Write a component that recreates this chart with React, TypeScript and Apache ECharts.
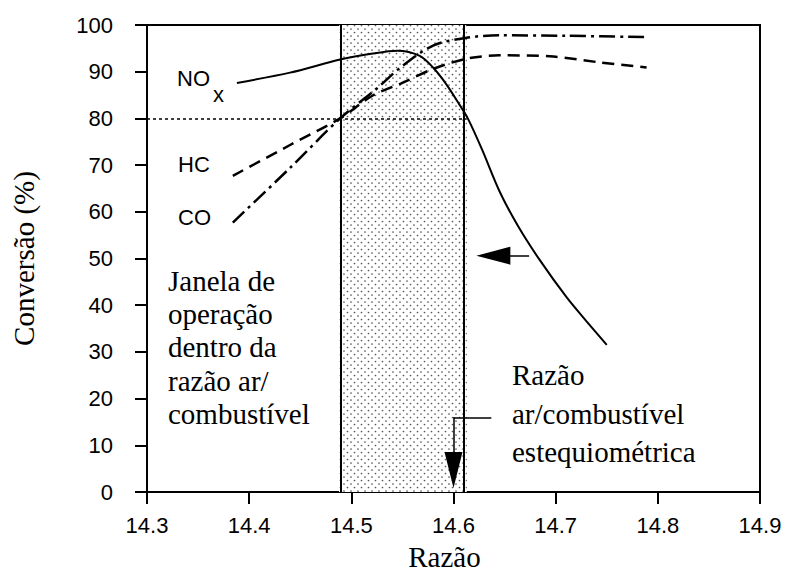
import React, { useEffect, useRef } from "react";
import * as echarts from "echarts";

// Razão ar/combustível (x) and conversion (%)
const noxX = [14.388, 14.44, 14.489, 14.521, 14.545, 14.567, 14.58, 14.593, 14.606, 14.614, 14.628, 14.645, 14.663, 14.684, 14.711, 14.73, 14.75];
const noxY = [87.6, 89.8, 92.6, 93.9, 94.5, 93.4, 90.9, 87.3, 82.9, 80.0, 73.3, 64.4, 57.0, 49.8, 41.6, 36.6, 31.5];

const hcX = [14.384, 14.44, 14.489, 14.521, 14.55, 14.58, 14.613, 14.645, 14.694, 14.743, 14.789];
const hcY = [67.7, 74.3, 80.0, 84.9, 87.6, 90.6, 92.8, 93.5, 93.3, 92.0, 90.9];

const coX = [14.384, 14.44, 14.489, 14.525, 14.5475, 14.58, 14.614, 14.645, 14.71, 14.789];
const coY = [57.7, 69.4, 80.0, 86.4, 90.8, 95.6, 97.3, 97.8, 97.7, 97.4];

const windowLo = 14.488;
const windowHi = 14.613;
const threshold = 80;
const stoich = 14.6;
const arrowLevel = 50.6;
const arrowTail = 14.674;
const arrowHead = 14.639;
const stoichLabelLevel = 16;
const stoichLabelX = 14.637;
const stoichHead = 4.7;

const xMin = 14.3;
const xMax = 14.9;
const xStep = 0.1;
const yMin = 0;
const yMax = 100;
const yStep = 10;

const pair = (xs: number[], ys: number[]) => xs.map((x, i) => [x, ys[i]]);

export default function App() {
  const ref = useRef<HTMLDivElement>(null);
  useEffect(() => {
    if (!ref.current) return;
    document.body.style.margin = "0";
    const chart = echarts.init(ref.current, undefined, { renderer: "svg" });

    const c = document.createElement("canvas");
    c.width = 7;
    c.height = 7;
    const ctx = c.getContext("2d")!;
    ctx.fillStyle = "#ffffff";
    ctx.fillRect(0, 0, 7, 7);
    ctx.fillStyle = "#555555";
    ctx.beginPath();
    ctx.arc(1, 1, 0.85, 0, Math.PI * 2);
    ctx.fill();
    ctx.beginPath();
    ctx.arc(4.5, 4.5, 0.85, 0, Math.PI * 2);
    ctx.fill();
    const pattern = { image: c.toDataURL(), repeat: "repeat", imageWidth: 7, imageHeight: 7 };

    const black = "#000";
    const sans = "Liberation Sans, Arial, sans-serif";
    const serif = "Liberation Serif, Times New Roman, serif";

    chart.setOption({
      animation: false,
      backgroundColor: "#fff",
      grid: { left: 147, right: 25, top: 25, bottom: 87, show: true, borderColor: black, borderWidth: 2 },
      xAxis: {
        type: "value",
        min: xMin,
        max: xMax,
        interval: xStep,
        name: "Razão",
        nameLocation: "middle",
        nameGap: 50,
        nameTextStyle: { fontFamily: serif, fontSize: 29, color: black, padding: [0, 18, 0, 0] },
        axisLine: { lineStyle: { color: black, width: 2 } },
        axisTick: { length: 12, lineStyle: { color: black, width: 2 } },
        axisLabel: { margin: 22, fontFamily: sans, fontSize: 22, color: black, formatter: (v: number) => v.toFixed(1) },
        splitLine: { show: false },
      },
      yAxis: {
        type: "value",
        min: yMin,
        max: yMax,
        interval: yStep,
        name: "Conversão (%)",
        nameLocation: "middle",
        nameGap: 109,
        nameTextStyle: { fontFamily: serif, fontSize: 29, color: black },
        axisLine: { lineStyle: { color: black, width: 2 } },
        axisTick: { length: 12, lineStyle: { color: black, width: 2 } },
        axisLabel: { margin: 34, fontFamily: sans, fontSize: 22, color: black },
        splitLine: { show: false },
      },
      series: [
        {
          name: "NOx",
          type: "line",
          data: pair(noxX, noxY),
          smooth: 0.3,
          showSymbol: false,
          lineStyle: { color: black, width: 2 },
          markArea: {
            silent: true,
            itemStyle: { color: pattern },
            data: [[{ xAxis: windowLo }, { xAxis: windowHi }]],
          },
          markLine: {
            silent: true,
            symbol: ["none", "none"],
            label: { show: false },
            lineStyle: { color: black, width: 2, type: "solid" },
            data: [
              { xAxis: windowLo },
              { xAxis: windowHi },
              [
                { coord: [xMin, threshold], lineStyle: { type: [3, 3], width: 1.5, color: black } },
                { coord: [windowHi, threshold] },
              ],
              [
                { coord: [arrowTail, arrowLevel], symbol: "none", lineStyle: { width: 1.5, color: black, type: "solid" } },
                { coord: [arrowHead, arrowLevel], symbol: "triangle", symbolSize: [18, 34] },
              ],
              [
                { coord: [stoichLabelX, stoichLabelLevel], symbol: "none", lineStyle: { width: 1.5, color: black, type: "solid" } },
                { coord: [stoich, stoichLabelLevel], symbol: "none" },
              ],
              [
                { coord: [stoich, stoichLabelLevel], symbol: "none", lineStyle: { width: 1.5, color: black, type: "solid" } },
                { coord: [stoich, stoichHead], symbol: "triangle", symbolSize: [18, 36] },
              ],
            ],
          },
          z: 3,
        },
        {
          name: "HC",
          type: "line",
          data: pair(hcX, hcY),
          smooth: 0.3,
          showSymbol: false,
          lineStyle: { color: black, width: 2.5, type: [12, 7] },
          z: 3,
        },
        {
          name: "CO",
          type: "line",
          data: pair(coX, coY),
          smooth: 0.3,
          showSymbol: false,
          lineStyle: { color: black, width: 2.5, type: [16, 5, 3, 5] },
          z: 3,
        },
      ],
      graphic: [
        { type: "text", left: 177, top: 67, style: { text: "NO", fontFamily: sans, fontSize: 22, fill: black } },
        { type: "text", left: 213, top: 83, style: { text: "x", fontFamily: sans, fontSize: 22, fill: black } },
        { type: "text", left: 178, top: 153, style: { text: "HC", fontFamily: sans, fontSize: 22, fill: black } },
        { type: "text", left: 178, top: 206, style: { text: "CO", fontFamily: sans, fontSize: 22, fill: black } },
        {
          type: "text",
          left: 168,
          top: 264,
          style: {
            text: "Janela de\noperação\ndentro da\nrazão ar/\ncombustível",
            fontFamily: serif,
            fontSize: 29,
            lineHeight: 33.3,
            fill: black,
          },
        },
        {
          type: "text",
          left: 512,
          top: 356,
          style: {
            text: "Razão\nar/combustível\nestequiométrica",
            fontFamily: serif,
            fontSize: 29,
            lineHeight: 38.5,
            fill: black,
          },
        },
      ],
    });
    return () => chart.dispose();
  }, []);
  return <div ref={ref} style={{ width: 785, height: 579 }} />;
}
